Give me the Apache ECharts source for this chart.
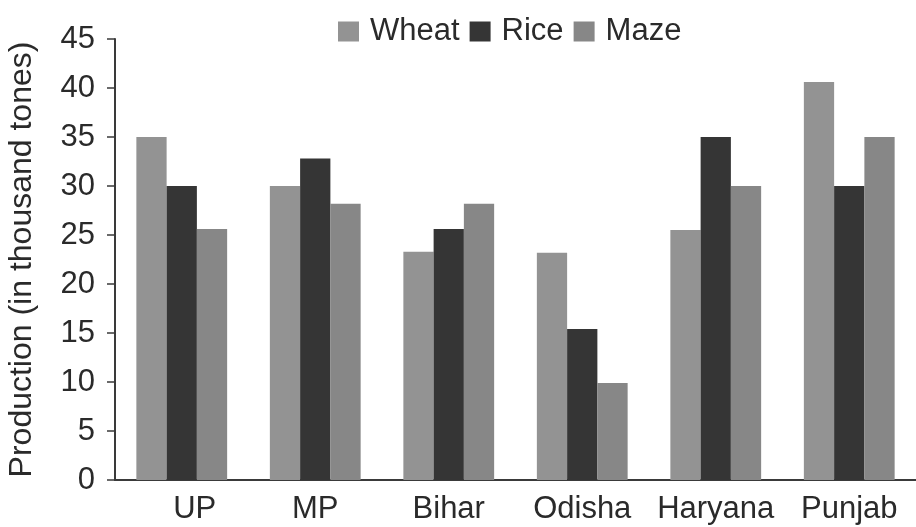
<!DOCTYPE html>
<html>
<head>
<meta charset="utf-8">
<script src="https://cdn.jsdelivr.net/npm/echarts@6/dist/echarts.min.js"></script>
<style>html,body{margin:0;padding:0;background:#fff;}#c{width:916px;height:527px;}</style>
</head>
<body>
<div id="c"></div>
<script>
var categories = ['UP', 'MP', 'Bihar', 'Odisha', 'Haryana', 'Punjab'];
var wheat = [35, 30, 23.3, 23.2, 25.5, 40.6];
var rice = [30, 32.8, 25.6, 15.4, 35, 30];
var maze = [25.6, 28.2, 28.2, 9.9, 30, 35];
var seriesNames = ['Wheat', 'Rice', 'Maze'];
var yTicks = [0, 5, 10, 15, 20, 25, 30, 35, 40, 45];

var FONT = 'Liberation Sans, Arial, sans-serif';
var colors = ['#939393', '#353535', '#878787'];
var xData = categories.map(function (c, i) {
  return i === 0 ? {value: c, textStyle: {padding: [0, 0, 0, 26]}} : c;
});
var chart = echarts.init(document.getElementById('c'), null, {renderer: 'canvas'});
chart.setOption({
  animation: false,
  color: colors,
  legend: {
    top: 11, left: 333,
    itemWidth: 21, itemHeight: 20, itemGap: 10,
    icon: 'rect',
    textStyle: {fontFamily: FONT, fontSize: 31, color: '#2a2a2a', padding: [0, 0, 0, 6]},
    data: seriesNames
  },
  grid: {left: 115, right: 0, top: 39, bottom: 47, containLabel: false, outerBoundsMode: 'none'},
  xAxis: {
    type: 'category', data: xData,
    axisLine: {lineStyle: {color: '#3a3a3a', width: 2}},
    axisTick: {show: false},
    axisLabel: {fontFamily: FONT, fontSize: 31, color: '#2a2a2a', margin: 14, interval: 0}
  },
  yAxis: {
    type: 'value', min: yTicks[0], max: yTicks[yTicks.length - 1], interval: 5,
    name: 'Production (in thousand tones)',
    nameLocation: 'middle', nameGap: 77,
    nameTextStyle: {fontFamily: FONT, fontSize: 32, color: '#2a2a2a'},
    axisLine: {show: true, lineStyle: {color: '#3a3a3a', width: 2}},
    axisTick: {show: true, length: 8, lineStyle: {color: '#3a3a3a', width: 1.5}},
    splitLine: {show: false},
    axisLabel: {fontFamily: FONT, fontSize: 31, color: '#2a2a2a', margin: 20}
  },
  series: [
    {name: seriesNames[0], type: 'bar', data: wheat, barGap: '0%', barCategoryGap: '32%'},
    {name: seriesNames[1], type: 'bar', data: rice, barGap: '0%', barCategoryGap: '32%'},
    {name: seriesNames[2], type: 'bar', data: maze, barGap: '0%', barCategoryGap: '32%'}
  ]
});
</script>
</body>
</html>
